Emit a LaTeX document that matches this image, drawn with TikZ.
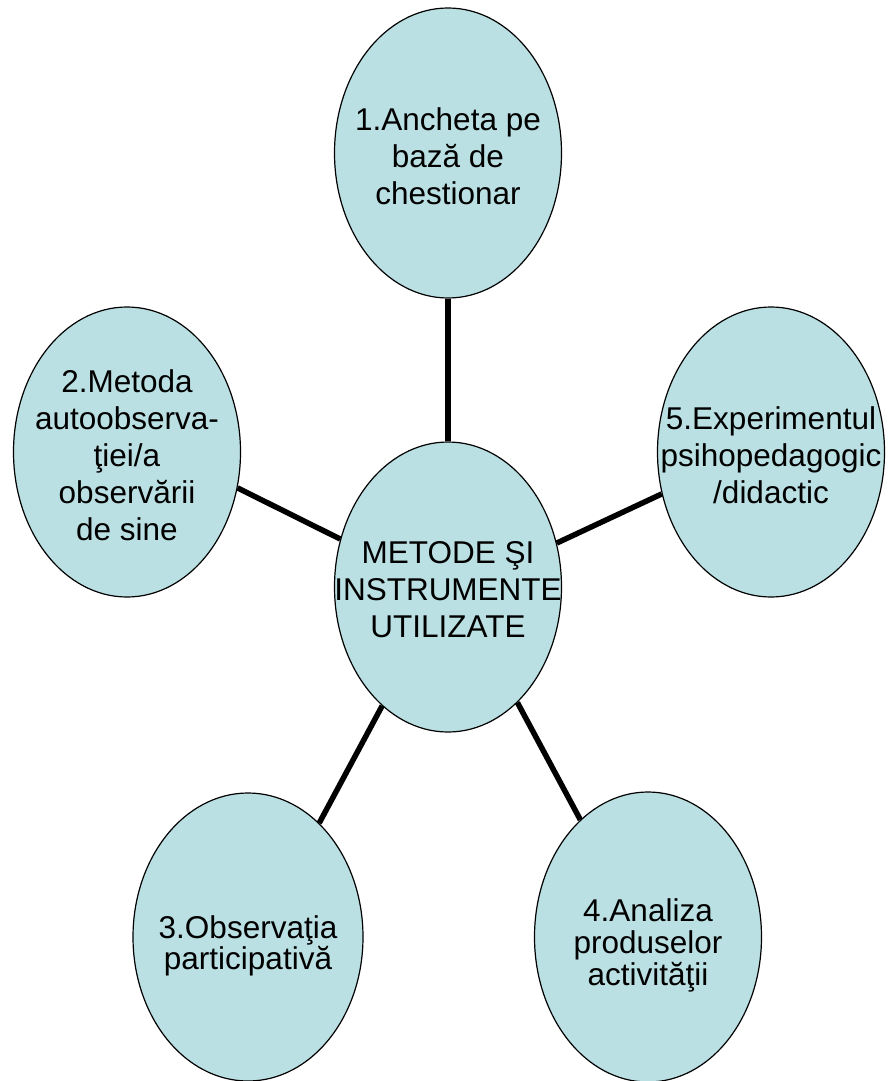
\documentclass[tikz,border=0pt]{standalone}
\usepackage{fontspec}
\setmainfont{Liberation Sans}
\usetikzlibrary{shapes.geometric}
\definecolor{bubble}{RGB}{186,224,227}
\tikzset{
  bubble/.style={ellipse, draw=black, line width=1.2pt, fill=bubble,
    minimum width=227pt, minimum height=290pt, inner sep=0pt},
  lbl/.style={align=center, inner sep=0pt,
    font=\fontsize{31.5}{37}\selectfont},
  link/.style={line width=5.5pt, black}
}
\begin{document}
\begin{tikzpicture}[x=1pt,y=-1pt]
\useasboundingbox (0,0) rectangle (889,1081);
\node[bubble] (c)  at (448,587) {};
\node[bubble] (n1) at (448,153) {};
\node[bubble] (n2) at (127,452) {};
\node[bubble] (n5) at (771,452) {};
\node[bubble, minimum width=230pt, minimum height=288pt] (n3) at (248,937) {};
\node[bubble] (n4) at (648,937) {};
\node[lbl] (tc) at (448,590) {METODE ŞI\\INSTRUMENTE\\UTILIZATE};
\node[lbl] (t1) at (448,156) {1.Ancheta pe\\bază de\\chestionar};
\node[lbl] (t2) at (127,455) {2.Metoda\\autoobserva-\\ţiei/a\\observării\\de sine};
\node[lbl] (t5) at (771,455) {5.Experimentul\\psihopedagogic\\/didactic};
\node[lbl, font=\fontsize{31.5}{31}\selectfont] (t3) at (248,946) {3.Observaţia\\participativă};
\node[lbl, font=\fontsize{31.5}{32}\selectfont] (t4) at (648,945) {4.Analiza\\produselor\\activităţii};
\draw[link] (n1.south) -- (c.north);
\draw[link] (c.156.9) -- (n2.-18.3);
\draw[link] (c.22.7) -- (n5.-159.4);
\draw[link] (c.-119.2) -- (n3.58.9);
\draw[link] (c.-59.7) -- (n4.120.4);
\end{tikzpicture}
\end{document}
